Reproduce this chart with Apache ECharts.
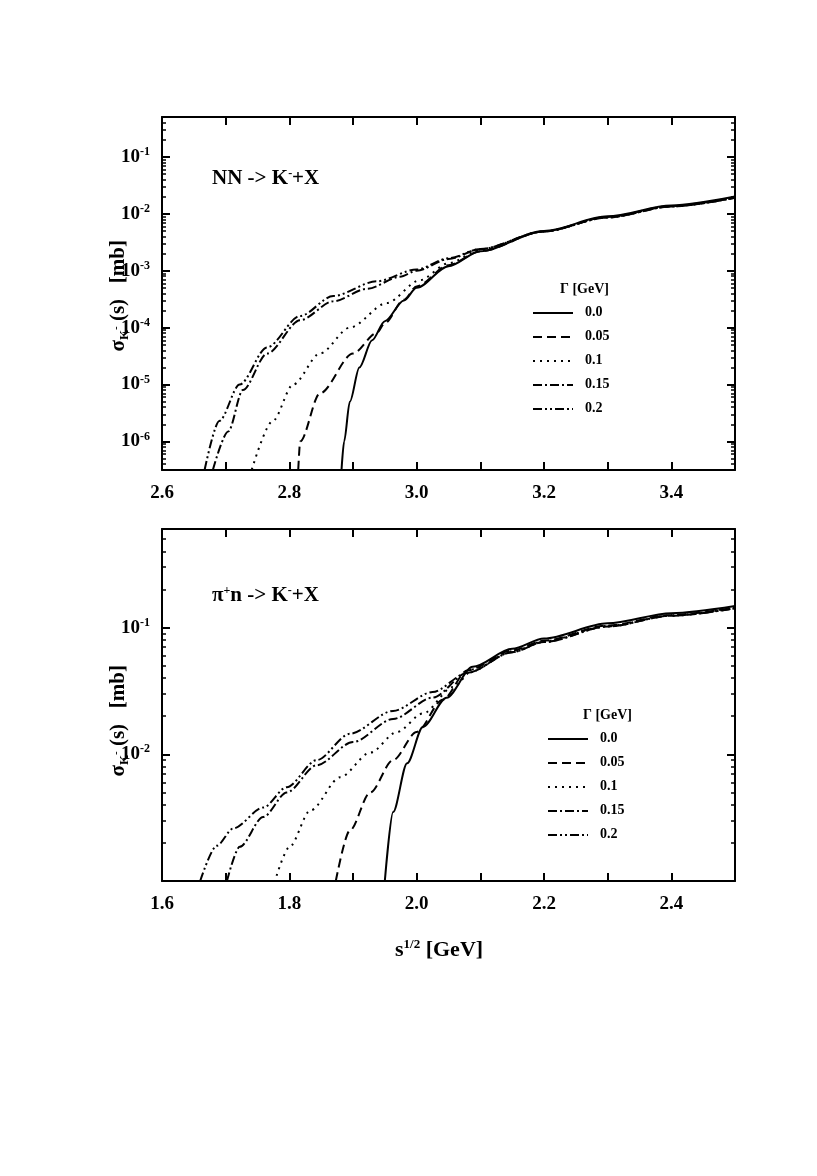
<!DOCTYPE html>
<html><head><meta charset="utf-8">
<script src="https://cdn.jsdelivr.net/npm/echarts@6/dist/echarts.min.js"></script>
<style>html,body{margin:0;padding:0;background:#fff}#c{width:817px;height:1176px}</style>
</head><body><div id="c"></div>
<script>
const gammaNames = ['0.0','0.05','0.1','0.15','0.2'];
// Top panel: NN -> K- + X  [sqrt(s) GeV, sigma mb]
const nn_g000 = [[2.882,3.2e-7],[2.886,1e-6],[2.895,5e-6],[2.91,2e-5],[2.93,6e-5],[2.95,1.3e-4],[2.98,3e-4],[3.0,5e-4],[3.05,1.2e-3],[3.1,2.2e-3],[3.2,5e-3],[3.3,9e-3],[3.4,1.4e-2],[3.5,2e-2]];
const nn_g005 = [[2.814,3.2e-7],[2.817,1e-6],[2.848,7e-6],[2.9,3.5e-5],[2.937,8e-5],[2.95,1.2e-4],[2.98,3.1e-4],[3.0,5.3e-4],[3.05,1.25e-3],[3.1,2.2e-3],[3.2,4.9e-3],[3.3,8.8e-3],[3.4,1.37e-2],[3.5,1.95e-2]];
const nn_g010 = [[2.741,3.2e-7],[2.774,2.3e-6],[2.806,1e-5],[2.848,3.5e-5],[2.895,1e-4],[2.953,2.7e-4],[3.005,6.8e-4],[3.05,1.35e-3],[3.1,2.3e-3],[3.2,4.9e-3],[3.3,8.7e-3],[3.4,1.35e-2],[3.5,1.92e-2]];
const nn_g015 = [[2.68,3.2e-7],[2.704,1.5e-6],[2.727,8e-6],[2.765,3.5e-5],[2.817,1.35e-4],[2.869,2.9e-4],[2.922,4.8e-4],[2.974,7.8e-4],[3.0,1e-3],[3.05,1.6e-3],[3.1,2.4e-3],[3.2,4.9e-3],[3.3,8.6e-3],[3.4,1.34e-2],[3.5,1.9e-2]];
const nn_g020 = [[2.667,3.2e-7],[2.69,2.3e-6],[2.722,1e-5],[2.765,4.5e-5],[2.817,1.6e-4],[2.869,3.6e-4],[2.937,6.5e-4],[3.0,1.05e-3],[3.05,1.65e-3],[3.1,2.4e-3],[3.2,4.9e-3],[3.3,8.6e-3],[3.4,1.34e-2],[3.5,1.9e-2]];
// Bottom panel: pi+ n -> K- + X
const pn_g000 = [[1.950,1e-3],[1.963,3.5e-3],[1.985,8.5e-3],[2.01,1.65e-2],[2.047,2.8e-2],[2.088,4.9e-2],[2.15,6.8e-2],[2.2,8.2e-2],[2.3,0.108],[2.4,0.13],[2.5,0.148]];
const pn_g005 = [[1.873,1e-3],[1.895,2.5e-3],[1.927,5e-3],[1.963,9e-3],[2.0,1.5e-2],[2.041,2.7e-2],[2.08,4.6e-2],[2.15,6.6e-2],[2.2,7.9e-2],[2.3,0.104],[2.4,0.126],[2.5,0.144]];
const pn_g010 = [[1.780,1.1e-3],[1.80,1.85e-3],[1.833,3.6e-3],[1.88,6.6e-3],[1.927,1.03e-2],[1.969,1.5e-2],[2.01,2.1e-2],[2.057,3.4e-2],[2.09,4.7e-2],[2.15,6.5e-2],[2.2,7.8e-2],[2.3,0.103],[2.4,0.125],[2.5,0.143]];
const pn_g015 = [[1.702,1e-3],[1.722,1.86e-3],[1.759,3.2e-3],[1.796,5e-3],[1.843,8.2e-3],[1.90,1.25e-2],[1.963,1.9e-2],[2.025,2.8e-2],[2.08,4.4e-2],[2.15,6.4e-2],[2.2,7.7e-2],[2.3,0.102],[2.4,0.124],[2.5,0.142]];
const pn_g020 = [[1.66,1e-3],[1.686,1.9e-3],[1.712,2.6e-3],[1.759,3.8e-3],[1.796,5.5e-3],[1.843,9e-3],[1.895,1.45e-2],[1.963,2.2e-2],[2.025,3.1e-2],[2.08,4.4e-2],[2.15,6.4e-2],[2.2,7.7e-2],[2.3,0.102],[2.4,0.124],[2.5,0.142]];
const xTicksTop = [2.6,2.8,3.0,3.2,3.4];
const xTicksBot = [1.6,1.8,2.0,2.2,2.4];

const dashes = ['solid',[9,5],[2,5],[9,3,2,3],[9,3,2,3,2,3]];
const F = '"Liberation Serif","DejaVu Serif",serif';
const chart = echarts.init(document.getElementById('c'));
const supFmt = v => { const l = Math.log10(v), e = Math.round(l); if (Math.abs(l-e)>1e-6) return ''; return '{b|10}{s|' + e + '}'; };
const rich = {b:{fontFamily:F,fontWeight:'bold',fontSize:19,color:'#000'},s:{fontFamily:F,fontWeight:'bold',fontSize:12,color:'#000',padding:[0,0,10,0]}};
function xAx(gi, min, max, labels, show) {
  return {type:'value', gridIndex:gi, min, max, interval:0.1, position: show?'bottom':'top',
    axisLine:{onZero:false,lineStyle:{color:'#000',width:2}},
    axisTick:{inside:true,length:8,lineStyle:{color:'#000',width:2}},
    minorTick:{show:false}, splitLine:{show:false},
    axisLabel:{show:show, margin:14, fontFamily:F, fontWeight:'bold', fontSize:19, color:'#000',
      formatter: v => { const r = Math.round(v*10)/10; return labels.some(t=>Math.abs(t-r)<1e-6) ? r.toFixed(1) : ''; }}};
}
function yAx(gi, min, max, show) {
  return {type:'log', logBase:10, gridIndex:gi, min, max, position: show?'left':'right',
    axisLine:{onZero:false,lineStyle:{color:'#000',width:2}},
    axisTick:{inside:true,length:8,lineStyle:{color:'#000',width:2}},
    minorTick:{show:true,splitNumber:9,length:4,lineStyle:{color:'#000',width:1.5}},
    splitLine:{show:false},
    axisLabel:{show:show, margin:12, showMinLabel:false, showMaxLabel:false, formatter:supFmt, rich}};
}
const topData = [nn_g000,nn_g005,nn_g010,nn_g015,nn_g020];
const botData = [pn_g000,pn_g005,pn_g010,pn_g015,pn_g020];
const series = [];
topData.forEach((d,i)=>series.push({type:'line',name:'top '+gammaNames[i],xAxisIndex:0,yAxisIndex:0,data:d,smooth:0.3,smoothMonotone:'x',showSymbol:false,symbol:'none',lineStyle:{color:'#000',width:2,type:dashes[i]}}));
botData.forEach((d,i)=>series.push({type:'line',name:'bot '+gammaNames[i],xAxisIndex:2,yAxisIndex:2,data:d,smooth:0.3,smoothMonotone:'x',showSymbol:false,symbol:'none',lineStyle:{color:'#000',width:2,type:dashes[i]}}));
function legendGraphics(x0, y0, titleX) {
  const g = [{type:'text',left:titleX,top:y0-31,style:{text:'Γ [GeV]',fontFamily:F,fontWeight:'bold',fontSize:14,fill:'#000'}}];
  gammaNames.forEach((n,i)=>{
    const y = y0 + i*24;
    g.push({type:'line',shape:{x1:x0,y1:y,x2:x0+40,y2:y},style:{stroke:'#000',lineWidth:2,lineDash:dashes[i]==='solid'?null:dashes[i]}});
    g.push({type:'text',left:x0+52,top:y-8,style:{text:n,fontFamily:F,fontWeight:'bold',fontSize:14,fill:'#000'}});
  });
  return g;
}
const ylab = (x,y) => ({type:'text', left:x, top:y, rotation:Math.PI/2, style:{
  text:'{a|σ}{k|K}{m|-}{a| (s)   [mb]}', rich:{a:{fontFamily:F,fontWeight:'bold',fontSize:21},k:{fontFamily:F,fontWeight:'bold',fontSize:13,padding:[12,0,0,0]},m:{fontFamily:F,fontWeight:'bold',fontSize:11,padding:[0,0,4,0]}}}});
chart.setOption({
  animation:false,
  grid:[{left:162,top:117,width:573,height:353},{left:162,top:529,width:573,height:352}],
  xAxis:[xAx(0,2.6,3.5,xTicksTop,true), xAx(0,2.6,3.5,xTicksTop,false), xAx(1,1.6,2.5,xTicksBot,true), xAx(1,1.6,2.5,xTicksBot,false)],
  yAxis:[yAx(0,3.16e-7,0.5,true), yAx(0,3.16e-7,0.5,false), yAx(1,1e-3,0.6,true), yAx(1,1e-3,0.6,false)],
  series,
  graphic:[
    {type:'text',left:212,top:168,style:{text:'{a|NN -> K}{s|-}{a|+X}',rich:{a:{fontFamily:F,fontWeight:'bold',fontSize:21},s:{fontFamily:F,fontWeight:'bold',fontSize:12,padding:[0,0,10,0]}}}},
    {type:'text',left:212,top:585,style:{text:'{a|π}{s|+}{a|n -> K}{s|-}{a|+X}',rich:{a:{fontFamily:F,fontWeight:'bold',fontSize:21},s:{fontFamily:F,fontWeight:'bold',fontSize:12,padding:[0,0,10,0]}}}},
    ...legendGraphics(533,313,560),
    ...legendGraphics(548,739,583),
    ylab(108,240),
    ylab(108,665),
    {type:'text',left:395,top:938,style:{text:'{a|s}{s|1/2}{a| [GeV]}',rich:{a:{fontFamily:F,fontWeight:'bold',fontSize:22},s:{fontFamily:F,fontWeight:'bold',fontSize:13,padding:[0,0,12,0]}}}}
  ]
});
</script></body></html>
